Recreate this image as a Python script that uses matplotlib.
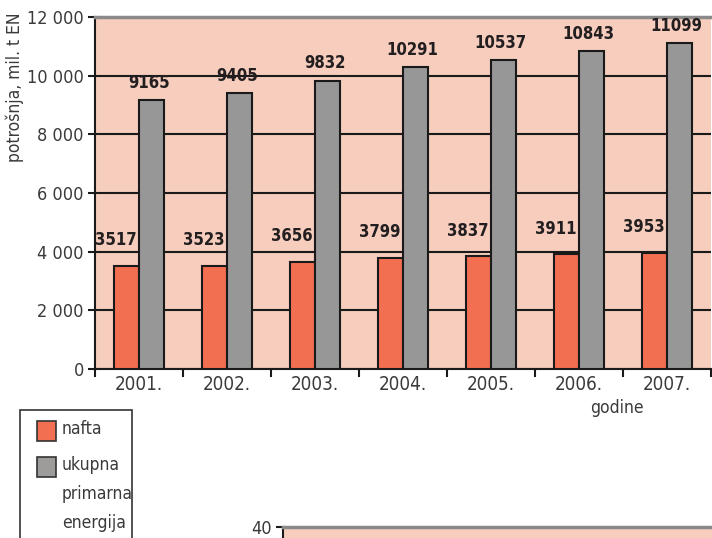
import matplotlib
matplotlib.use("Agg")
import matplotlib.pyplot as plt
from matplotlib.patches import Rectangle
from matplotlib.ticker import FuncFormatter

years = ["2001.", "2002.", "2003.", "2004.", "2005.", "2006.", "2007."]
nafta = [3517, 3523, 3656, 3799, 3837, 3911, 3953]
ukupno = [9165, 9405, 9832, 10291, 10537, 10843, 11099]
legend_labels = ["nafta", "ukupna\nprimarna\nenergija"]

BG = "#F7CDBE"
ORANGE = "#F26F52"
GRAY = "#969796"
TXT = "#3a3a3a"

plt.rcParams["font.family"] = ["DejaVu Sans"]
plt.rcParams["font.stretch"] = "condensed"

W, H = 712, 538
fig = plt.figure(figsize=(W / 100, H / 100), dpi=100)


def box(l, t, r, b):
    return [l / W, 1 - b / H, (r - l) / W, (b - t) / H]


ax = fig.add_axes(box(95, 17, 711, 369))
ax.set_facecolor(BG)

x = list(range(len(years)))
bw = 0.284
xo = [i - bw / 2 for i in x]
xg = [i + bw / 2 for i in x]
ax.bar(xo, nafta, width=bw, color=ORANGE, edgecolor="#1a1a1a", linewidth=1.5, zorder=3)
ax.bar(xg, ukupno, width=bw, color=GRAY, edgecolor="#1a1a1a", linewidth=1.5, zorder=3)

for xi, v in zip(xo, nafta):
    ax.annotate(str(v), (xi, v), xytext=(-8, 12), textcoords="offset points",
                ha="center", va="bottom", fontsize=12, fontweight="bold", color="#231f20")
for xi, v in zip(xg, ukupno):
    ax.annotate(str(v), (xi, v), xytext=(-2, 6), textcoords="offset points",
                ha="center", va="bottom", fontsize=12, fontweight="bold", color="#231f20")

ax.set_xlim(-0.5, len(years) - 0.5)
ax.set_ylim(0, 12000)
ax.set_yticks(range(0, 12001, 2000))
ax.yaxis.set_major_formatter(FuncFormatter(lambda v, p: f"{int(v):,}".replace(",", " ")))
ax.grid(axis="y", color="#1a1a1a", linewidth=1.5, zorder=1)
ax.set_axisbelow(True)

ax.set_xticks(x)
ax.set_xticklabels(years)
ax.set_xticks([i - 0.5 for i in range(len(years) + 1)], minor=True)
ax.tick_params(axis="x", which="major", length=0, pad=4, labelsize=13.5, labelcolor=TXT)
ax.tick_params(axis="x", which="minor", length=6, width=1.5, color="#1a1a1a")
ax.tick_params(axis="y", length=5, width=1.5, color="#1a1a1a", labelsize=13,
               labelcolor=TXT, pad=3)

for s in ["left", "bottom"]:
    ax.spines[s].set_color("#1a1a1a")
    ax.spines[s].set_linewidth(1.5)
ax.spines["right"].set_visible(False)
ax.spines["top"].set_color("#8a8a8a")
ax.spines["top"].set_linewidth(2.5)

ax.set_ylabel("potrošnja, mil. t EN", fontsize=12.5, color=TXT)
ax.yaxis.set_label_coords(-0.115, 0.8)
ax.text(5.43, -0.11, "godine", transform=ax.get_xaxis_transform(),
        ha="center", va="center", fontsize=12.5, color=TXT)

# legend box
fig.patches.append(Rectangle((20 / W, 1 - 560 / H), 112 / W, 150 / H, transform=fig.transFigure,
                             facecolor="white", edgecolor="#333333", linewidth=1.2))
for k, (lab, col) in enumerate(zip(legend_labels, [ORANGE, "#9d9c9a"])):
    top = 421 + k * 36
    fig.patches.append(Rectangle((37 / W, 1 - (top + 20) / H), 19 / W, 20 / H,
                                 transform=fig.transFigure, facecolor=col,
                                 edgecolor="#333333", linewidth=1.2))
    fig.text(62 / W, 1 - (top - 1) / H, lab, ha="left", va="top", fontsize=12.5,
             color=TXT, linespacing=1.8)

# second chart, cut off at the bottom of the page
ax2 = fig.add_axes(box(283, 527, 712, 700))
ax2.set_facecolor(BG)
ax2.set_ylim(0, 40)
ax2.set_yticks([40])
ax2.set_xticks([])
ax2.tick_params(axis="y", length=5, width=1.5, color="#1a1a1a", labelsize=13,
                labelcolor=TXT, pad=3)
ax2.spines["left"].set_color("#1a1a1a")
ax2.spines["left"].set_linewidth(1.5)
ax2.spines["right"].set_visible(False)
ax2.spines["top"].set_color("#8a8a8a")
ax2.spines["top"].set_linewidth(2.5)

fig.savefig("out.png", dpi=100)
